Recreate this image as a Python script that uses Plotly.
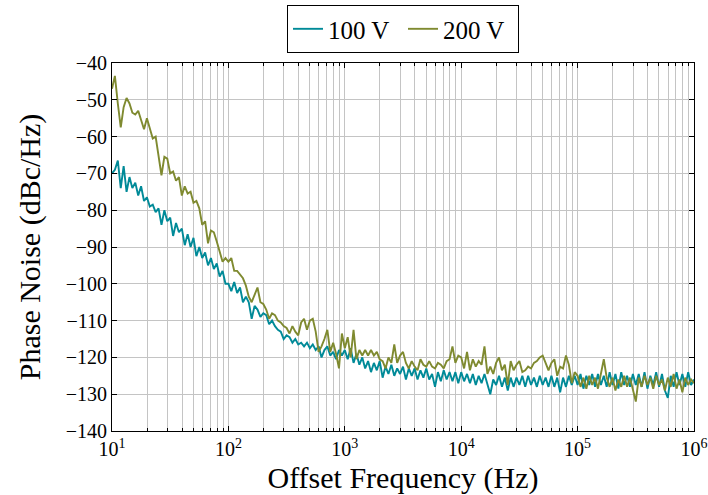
import plotly.graph_objects as go

# Frequency grid: 40 log-spaced mantissas per decade
MANTISSA = [1.000, 1.059, 1.122, 1.189, 1.259, 1.334, 1.413, 1.496, 1.585, 1.679,
            1.778, 1.884, 1.995, 2.113, 2.239, 2.371, 2.512, 2.661, 2.818, 2.985,
            3.162, 3.350, 3.548, 3.758, 3.981, 4.217, 4.467, 4.732, 5.012, 5.309,
            5.623, 5.957, 6.310, 6.683, 7.079, 7.499, 7.943, 8.414, 8.913, 9.441]
DECADES = [1e1, 1e2, 1e3, 1e4, 1e5]
LAST_FREQ = 1e6
freq = [m * d for d in DECADES for m in MANTISSA] + [LAST_FREQ]

# Phase noise, 100 V (dBc/Hz)
pn_100v = [
    # 10 - 100 Hz
    -70, -69, -66.5, -74, -68, -75, -71, -74, -72.5, -76,
    -73.5, -77.5, -76.5, -79, -78.5, -80.5, -79.5, -84, -80, -83,
    -82, -87, -83.5, -86, -85, -89.5, -86.5, -90, -87.5, -92.5,
    -90, -93, -91.5, -95, -93, -96, -94.5, -98, -96.5, -100,
    # 100 - 1k
    -100, -102, -99.5, -102.5, -101, -105, -103.5, -105, -109.5, -106,
    -107, -109, -108, -108.5, -111, -110, -111.5, -112.5, -113, -115,
    -114, -114.5, -116, -115, -116.5, -116, -117, -116, -117.5, -116.5,
    -118, -117, -120, -118, -117, -119.5, -118.5, -120.5, -118, -119.5,
    # 1k - 10k
    -118, -120.5, -117.5, -121.5, -119, -122, -120, -123, -121, -124,
    -121.5, -123.5, -121, -125.5, -122.5, -124.5, -122, -125, -123, -124.5,
    -122.5, -126, -123, -125, -123, -126, -123.5, -125.5, -123, -126,
    -124.5, -128, -124, -126.5, -123.5, -126, -124, -126.5, -124, -127,
    # 10k - 100k
    -124, -126.5, -124.5, -127, -124.5, -127.5, -125, -127, -124.5, -127.5,
    -130, -126, -127.5, -125, -128, -125.5, -129, -125.5, -128, -125.5,
    -127.5, -125, -128, -125, -127.5, -125.5, -128, -125, -127.5, -125.5,
    -128, -125, -128, -125.5, -129.5, -125.5, -128, -125, -127.5, -125,
    # 100k - 1M
    -127.5, -124.5, -128.5, -125, -127.5, -124.5, -128, -124.5, -127.5, -125,
    -128, -124, -127.5, -124.5, -128.5, -124, -127.5, -125, -128, -124.5,
    -127.5, -124.5, -128, -124, -128.5, -125, -127.5, -124, -128, -124.5,
    -129, -131, -125, -128, -124, -127.5, -124.5, -128, -124, -127.5,
    -126,
]

# Phase noise, 200 V (dBc/Hz)
pn_200v = [
    # 10 - 100 Hz
    -47, -43.5, -51, -57.5, -52, -49.5, -51, -53.5, -54, -53,
    -55.5, -58, -55, -58, -60.5, -60, -66, -70.5, -65.5, -66,
    -70, -69.5, -72, -71, -76, -73.5, -75.5, -75, -78, -77.5,
    -79.5, -84, -83, -89, -85.5, -86, -88.5, -91.5, -94, -93,
    # 100 - 1k
    -94, -93, -96.5, -96.5, -97.5, -98.5, -100.5, -103.5, -105, -103,
    -101, -105, -105.5, -107, -109.5, -108, -108.5, -110, -110.5, -111.5,
    -112, -113.5, -111.5, -113, -114, -110.5, -109.5, -112.5, -110, -109.5,
    -113, -118.5, -117, -115, -112.5, -118.5, -116, -119, -123, -113.5,
    # 1k - 10k
    -117.5, -114.5, -120, -112.5, -120.5, -118, -119.5, -118, -119.5, -118,
    -119.5, -118.5, -120.5, -121, -123, -120, -121.5, -116.5, -121.5, -119.5,
    -118.5, -121.5, -123, -121, -122.5, -123.5, -120.5, -122, -122.5, -121,
    -122.5, -123, -121.5, -122, -123, -121, -120.5, -117, -121.5, -119.5,
    # 10k - 100k
    -120, -123, -118.5, -123.5, -120.5, -122.5, -121, -122, -117, -124.5,
    -122.5, -124.5, -121.5, -120, -123.5, -122, -127.5, -121, -123.5, -122,
    -121, -124, -123.5, -122.5, -123, -121.5, -121, -120, -119.5, -121.5,
    -123.5, -121.5, -120.5, -125, -122.5, -123, -119.5, -122, -127, -124,
    # 100k - 1M
    -125, -128, -125.5, -128.5, -125, -127.5, -125.5, -128.5, -124, -120.5,
    -125.5, -128, -125.5, -129, -126, -128, -125, -128, -125.5, -128.5,
    -132, -125.5, -128, -125, -127.5, -125.5, -128.5, -125, -127.5, -126,
    -129, -125.5, -128, -124.5, -128.5, -126, -129.5, -125.5, -127.5, -126,
    -127,
]

series_names = ["100 V", "200 V"]
series_colors = ["#008a98", "#7f8a30"]

x_major = [1e1, 1e2, 1e3, 1e4, 1e5, 1e6]
x_major_text = ["10<sup>1</sup>", "10<sup>2</sup>", "10<sup>3</sup>",
                "10<sup>4</sup>", "10<sup>5</sup>", "10<sup>6</sup>"]
x_minor = [m * d for d in DECADES for m in range(2, 10)]
y_ticks = list(range(-140, -39, 10))

FONT = "'Liberation Serif', 'Times New Roman', serif"

fig = go.Figure()
for name, vals, col in zip(series_names, [pn_100v, pn_200v], series_colors):
    fig.add_trace(go.Scatter(x=freq, y=vals, mode="lines", name=name,
                             line=dict(color=col, width=1.9)))

grid = "#c4c4c4"
fig.update_layout(
    width=708, height=495,
    margin=dict(l=112, r=14, t=63, b=64, autoexpand=False),
    paper_bgcolor="white", plot_bgcolor="white",
    font=dict(family=FONT, color="black", size=19),
    showlegend=True,
    legend=dict(orientation="h", x=0.5, xanchor="center", y=1.027, yanchor="bottom",
                bordercolor="black", borderwidth=1, font=dict(size=25, family=FONT, color="black"),
                entrywidth=70, entrywidthmode="pixels",
                tracegroupgap=0, bgcolor="white"),
    xaxis=dict(type="log", range=[1, 6], tickmode="array", tickvals=x_major,
               ticktext=x_major_text, ticks="inside", ticklen=5, tickcolor="black",
               showline=True, linecolor="black", linewidth=1, mirror="allticks",
               showgrid=True, gridcolor=grid, gridwidth=1, zeroline=False,
               tickfont=dict(size=20, family=FONT, color="black"),
               minor=dict(tickmode="array", tickvals=x_minor, ticks="inside", ticklen=3,
                          tickcolor="black", showgrid=True, gridcolor=grid, gridwidth=1),
               title=dict(text="Offset Frequency (Hz)", font=dict(size=30, family=FONT, color="black"),
                          standoff=10)),
    yaxis=dict(range=[-140, -40], tickmode="array", tickvals=y_ticks,
               ticks="inside", ticklen=5, tickcolor="black",
               showline=True, linecolor="black", linewidth=1, mirror="allticks",
               showgrid=True, gridcolor=grid, gridwidth=1, zeroline=False,
               tickfont=dict(size=20, family=FONT, color="black"),
               title=dict(text="Phase Noise (dBc/Hz)", font=dict(size=30, family=FONT, color="black"),
                          standoff=16)),
)

fig.write_html("out.html", config={"displayModeBar": False},
               post_script="document.body.style.margin='0';document.body.style.overflow='hidden';")
